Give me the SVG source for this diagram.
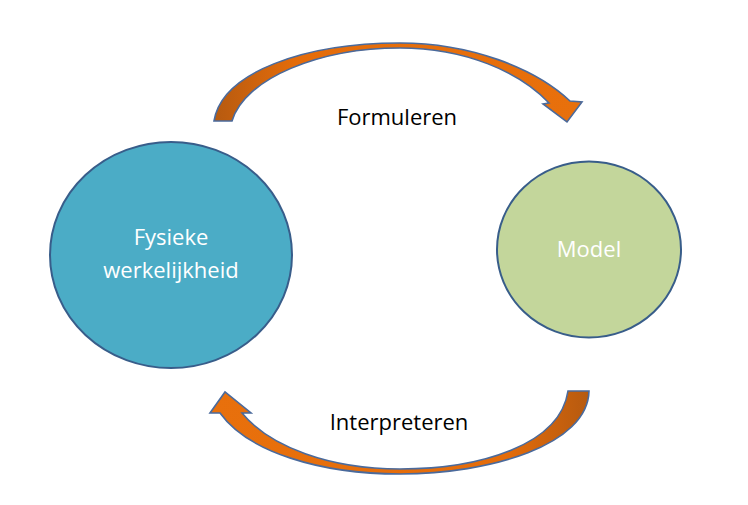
<svg xmlns="http://www.w3.org/2000/svg" width="748" height="505" viewBox="0 0 748 505">
<style>
.lbl{font-family:"Open Sans","Liberation Sans",sans-serif;font-size:22px;text-anchor:middle}
.dark{fill:#000000}
.light{fill:#FFFFFF}
.node{stroke:#385D8A;stroke-width:2}
.arrow{stroke:#4A6A9C;stroke-width:1.6;stroke-linejoin:miter}
</style>
<defs>
<linearGradient id="gTop" x1="214" y1="0" x2="582" y2="0" gradientUnits="userSpaceOnUse">
<stop offset="0" stop-color="#B65A10"/>
<stop offset="0.22" stop-color="#E46C0A"/>
<stop offset="1" stop-color="#E8700C"/>
</linearGradient>
<linearGradient id="gBot" x1="589" y1="0" x2="209" y2="0" gradientUnits="userSpaceOnUse">
<stop offset="0" stop-color="#B65A10"/>
<stop offset="0.22" stop-color="#E46C0A"/>
<stop offset="1" stop-color="#E8700C"/>
</linearGradient>
</defs>
<rect width="748" height="505" fill="#FFFFFF"/>
<g id="connectors">
<g id="formuleren">
<path class="arrow" fill="url(#gTop)" d="M 214,121 C 222,72 305,43 400,43 C 470,43 535,68 570,101 L 582,102 L 567,122 L 543,104 L 549,103 C 520,72 465,48 400,48 C 320,48 245,78 232,121 Z"/>
<text class="lbl dark" x="397" y="125">Formuleren</text>
</g>
<g id="interpreteren">
<path class="arrow" fill="url(#gBot)" d="M 589,391 C 588,445 490,474 400,474 C 320,474 248,452 220,413 L 210,413 L 225,392 L 251,413 L 242,413 C 270,447 330,469 400,469 C 480,469 560,445 568,391 Z"/>
<text class="lbl dark" x="399" y="430">Interpreteren</text>
</g>
</g>
<g id="node-fysiek">
<ellipse class="node" cx="171" cy="255" rx="121" ry="113" fill="#4BACC6"/>
<text class="lbl light" x="171" y="245">Fysieke</text>
<text class="lbl light" x="171" y="278">werkelijkheid</text>
</g>
<g id="node-model">
<ellipse class="node" cx="589" cy="249.5" rx="92" ry="88" fill="#C3D69B"/>
<text class="lbl light" x="589" y="257">Model</text>
</g>
</svg>
